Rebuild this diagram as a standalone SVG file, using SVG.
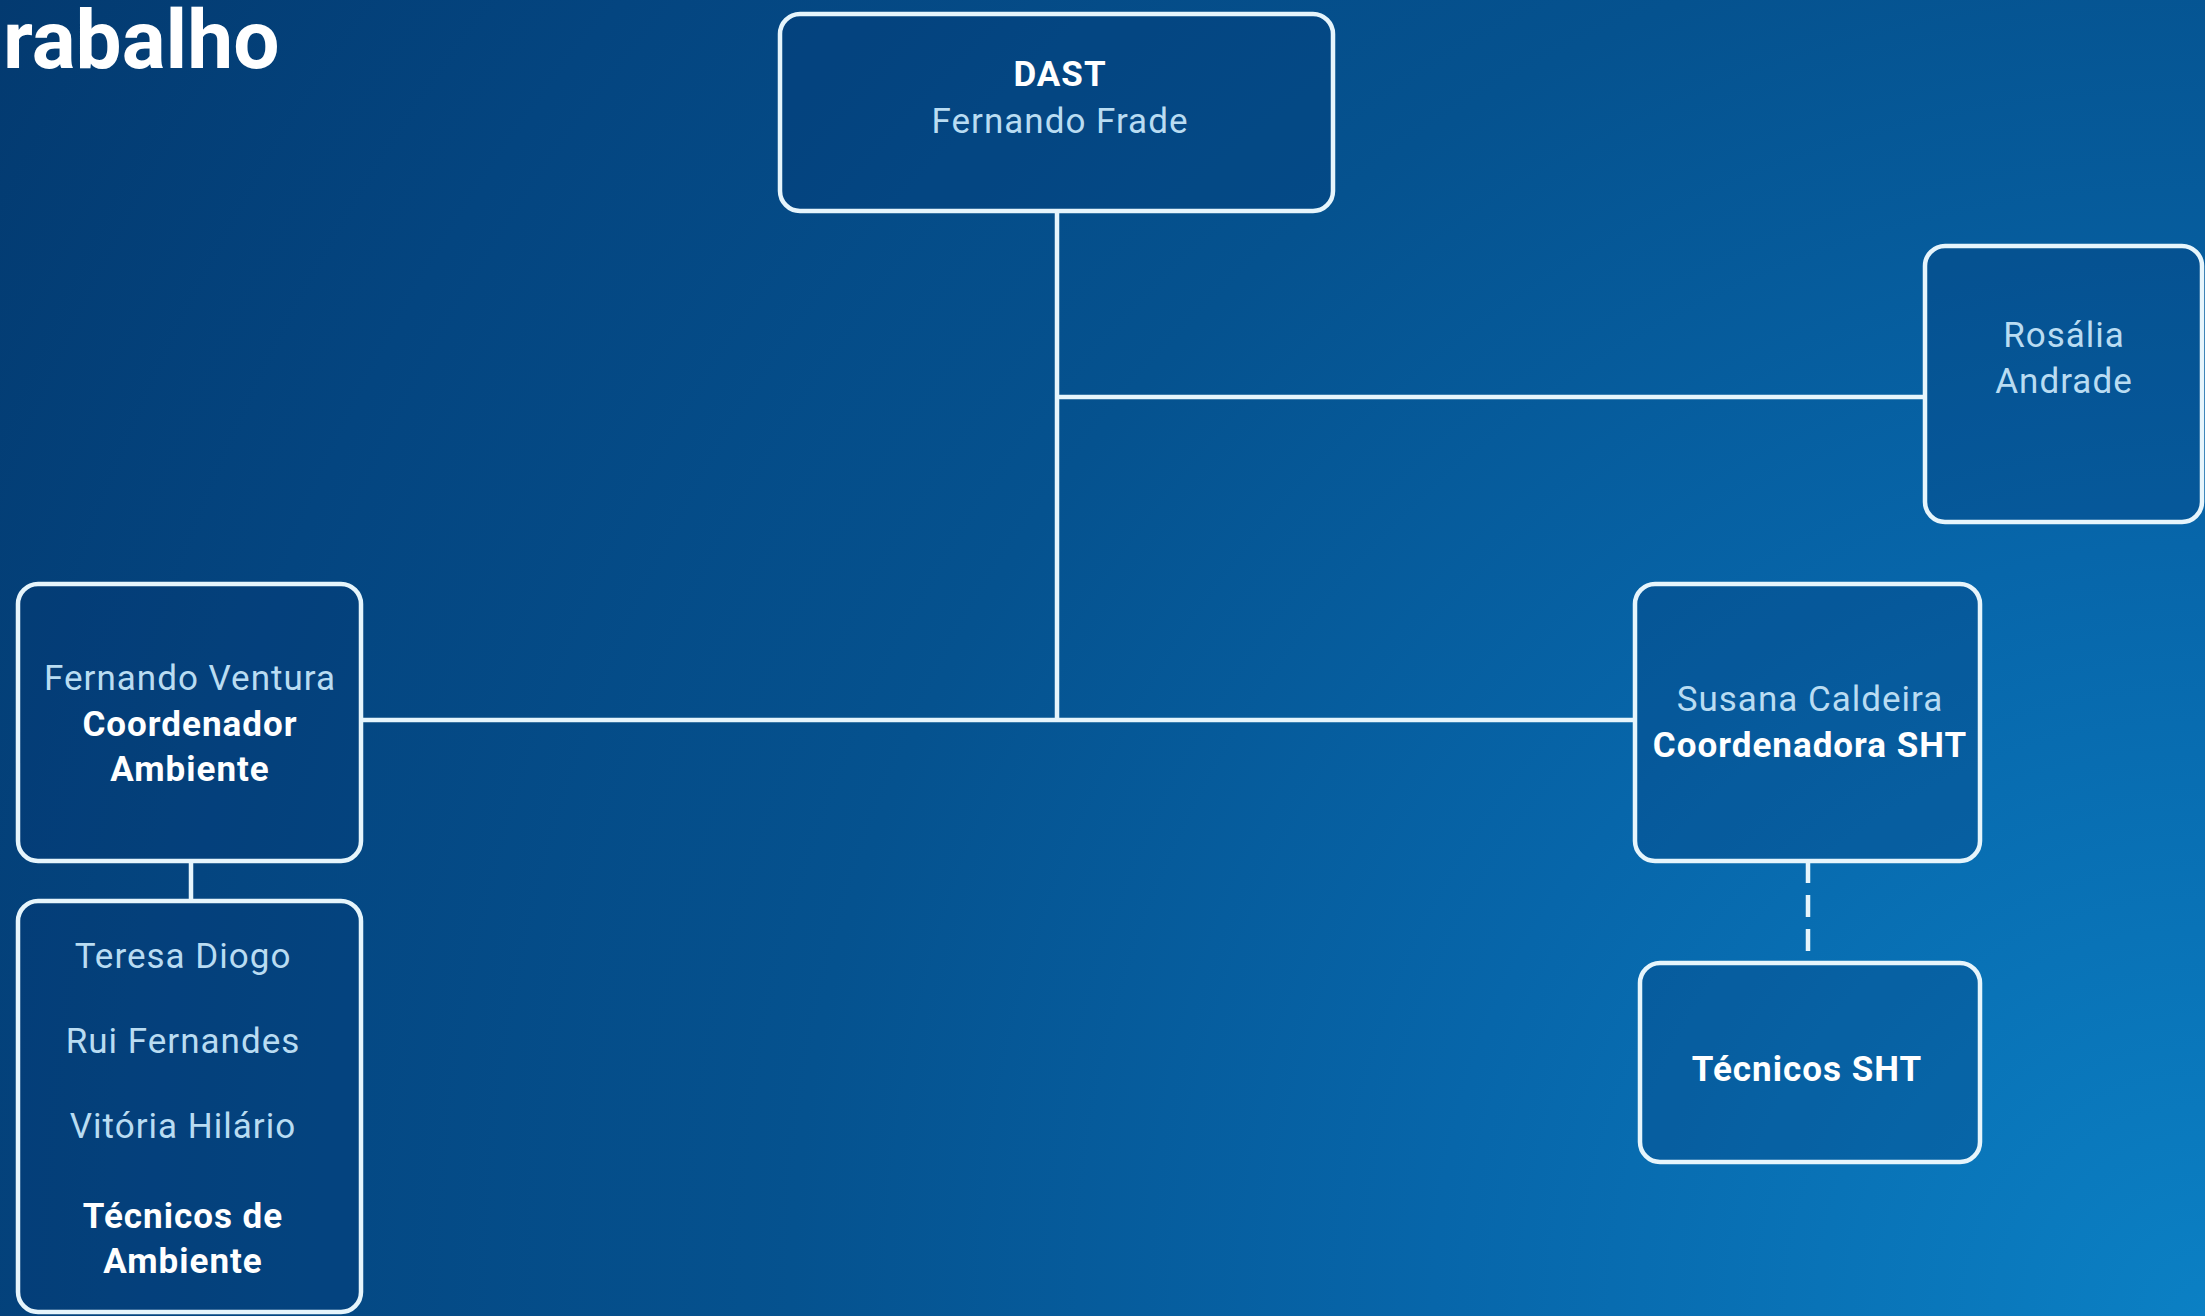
<svg xmlns="http://www.w3.org/2000/svg" width="2205" height="1316" viewBox="0 0 2205 1316">
<defs>
<radialGradient id="bg" cx="2205" cy="1316" r="2570" gradientUnits="userSpaceOnUse">
<stop offset="0" stop-color="#0b80c4"/>
<stop offset="0.3" stop-color="#0766aa"/>
<stop offset="0.55" stop-color="#05528f"/>
<stop offset="0.8" stop-color="#044580"/>
<stop offset="1" stop-color="#033a70"/>
</radialGradient>
<style>
.box{fill:#02336e;fill-opacity:0.25;stroke:#e6f5fc;stroke-width:4.5}
.ln{stroke:#e6f5fc;stroke-width:4.5;fill:none}
.nm{font-family:Roboto,"Liberation Sans",sans-serif;font-size:35px;fill:#b9dcf2;text-anchor:middle;letter-spacing:1px}
.bd{font-family:Roboto,"Liberation Sans",sans-serif;font-size:35px;font-weight:bold;fill:#ffffff;text-anchor:middle;letter-spacing:1px}
</style>
</defs>
<rect width="2205" height="1316" fill="url(#bg)"/>
<text x="3" y="68" font-family="Roboto,'Liberation Sans',sans-serif" font-size="82" font-weight="bold" fill="#ffffff">rabalho</text>
<g id="connectors">
<line class="ln" x1="1057" y1="211" x2="1057" y2="720"/>
<line class="ln" x1="1057" y1="397" x2="1925" y2="397"/>
<line class="ln" x1="361" y1="720" x2="1635" y2="720"/>
<line class="ln" x1="191" y1="861" x2="191" y2="901"/>
<line class="ln" x1="1808" y1="861" x2="1808" y2="963" stroke-dasharray="22,12"/>
</g>
<g id="dast">
<rect class="box" x="780" y="14" width="553" height="197" rx="20"/>
<text class="bd" x="1060" y="86">DAST</text>
<text class="nm" x="1060" y="133">Fernando Frade</text>
</g>
<g id="rosalia">
<rect class="box" x="1925" y="246" width="277" height="276" rx="20"/>
<text class="nm" x="2064" y="347">Rosália</text>
<text class="nm" x="2064" y="393">Andrade</text>
</g>
<g id="ventura">
<rect class="box" x="18" y="584" width="343" height="277" rx="20"/>
<text class="nm" x="190" y="690">Fernando Ventura</text>
<text class="bd" x="190" y="736">Coordenador</text>
<text class="bd" x="190" y="781">Ambiente</text>
</g>
<g id="tecnicos-ambiente">
<rect class="box" x="18" y="901" width="343" height="411" rx="20"/>
<text class="nm" x="183" y="968">Teresa Diogo</text>
<text class="nm" x="183" y="1053">Rui Fernandes</text>
<text class="nm" x="183" y="1138">Vitória Hilário</text>
<text class="bd" x="183" y="1228">Técnicos de</text>
<text class="bd" x="183" y="1273">Ambiente</text>
</g>
<g id="susana">
<rect class="box" x="1635" y="584" width="345" height="277" rx="20"/>
<text class="nm" x="1810" y="711">Susana Caldeira</text>
<text class="bd" x="1810" y="757">Coordenadora SHT</text>
</g>
<g id="tecnicos-sht">
<rect class="box" x="1640" y="963" width="340" height="199" rx="20"/>
<text class="bd" x="1807" y="1081">Técnicos SHT</text>
</g>
</svg>
